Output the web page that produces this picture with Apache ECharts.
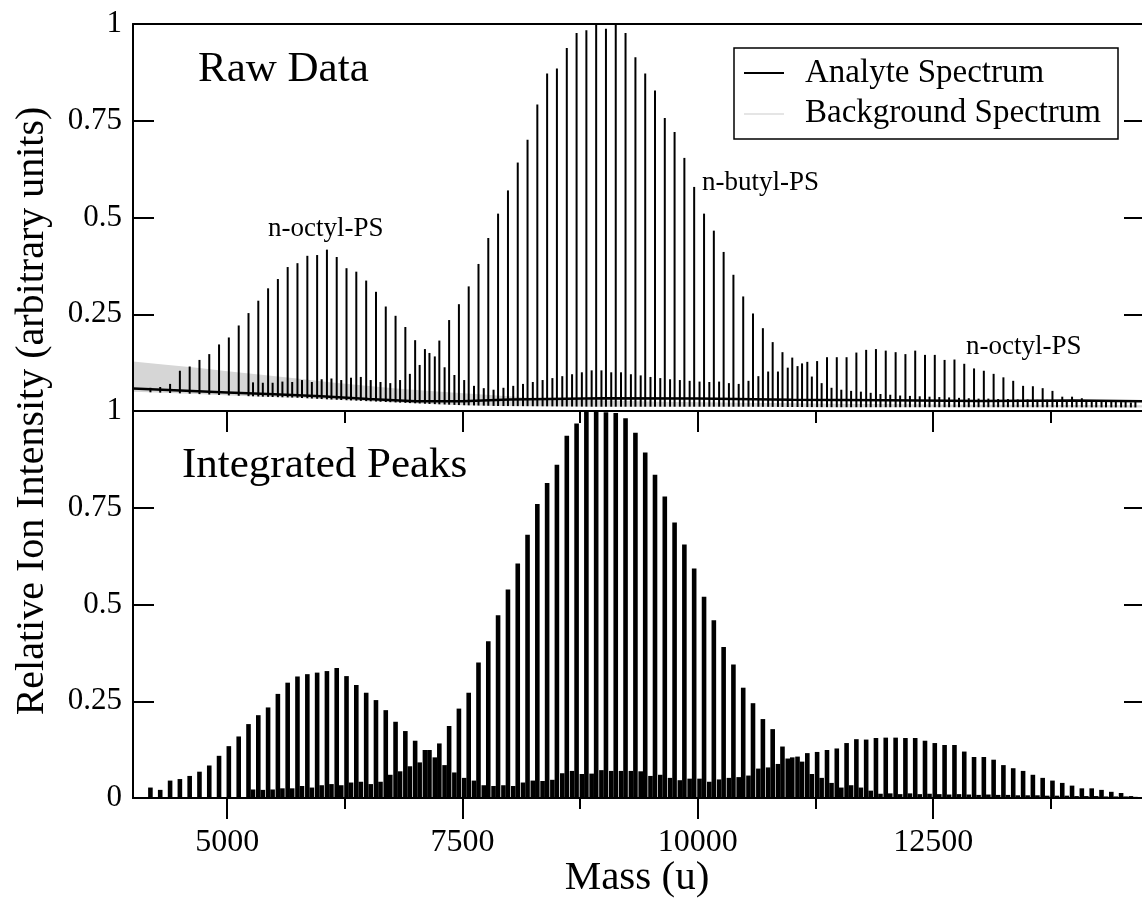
<!DOCTYPE html>
<html>
<head>
<meta charset="utf-8">
<title>MALDI spectra: raw data and integrated peaks</title>
<script src="https://cdn.jsdelivr.net/npm/echarts@6/dist/echarts.min.js"></script>
<style>
  html, body { margin: 0; padding: 0; background: #fff; }
  #chart { width: 1142px; height: 902px; }
</style>
</head>
<body>
<div id="chart"></div>
<script>
// ---- Oligomer masses (u) ----
const octylMass = [4185, 4289, 4394, 4498, 4602, 4706, 4810, 4914, 5018, 5123, 5227, 5331, 5435, 5539, 5643, 5747, 5852, 5956, 6060, 6164, 6268, 6372, 6477, 6581, 6685, 6789, 6893, 6997, 7101, 7206, 7310, 7414, 7518, 7622, 7726, 7830, 7935, 8039, 8143, 8247, 8351, 8455, 8560, 8664, 8768, 8872, 8976, 9080, 9184, 9289, 9393, 9497, 9601, 9705, 9809, 9913, 10018, 10122, 10226, 10330, 10434, 10538, 10643, 10747, 10851, 10955, 11059, 11163, 11267, 11372, 11476, 11580, 11684, 11788, 11892, 11996, 12101, 12205, 12309, 12413, 12517, 12621, 12726, 12830, 12934, 13038, 13142, 13246, 13350, 13455, 13559, 13663, 13767, 13871, 13975, 14079, 14184, 14288, 14392, 14496, 14600];
const butylMass = [5275, 5379, 5483, 5587, 5691, 5795, 5900, 6004, 6108, 6212, 6316, 6420, 6525, 6629, 6733, 6837, 6941, 7045, 7149, 7254, 7358, 7462, 7566, 7670, 7774, 7878, 7983, 8087, 8191, 8295, 8399, 8503, 8608, 8712, 8816, 8920, 9024, 9128, 9232, 9337, 9441, 9545, 9649, 9753, 9857, 9961, 10066, 10170, 10274, 10378, 10482, 10586, 10691, 10795, 10899, 11003, 11107, 11211, 11315, 11420, 11524, 11628, 11732, 11836, 11940, 12044, 12149, 12253, 12357, 12461, 12565, 12669, 12774, 12878, 12982, 13086, 13190, 13294, 13398, 13503, 13607, 13711, 13815, 13919, 14023, 14127, 14232, 14336, 14440, 14544, 14648];

// ---- Raw spectrum: peak apex intensities ----
const octylRaw = [0.060, 0.062, 0.070, 0.104, 0.115, 0.132, 0.147, 0.172, 0.190, 0.221,
  0.253, 0.285, 0.317, 0.341, 0.372, 0.382, 0.401, 0.403, 0.417, 0.398,
  0.369, 0.360, 0.337, 0.308, 0.270, 0.246, 0.217, 0.183, 0.160, 0.141,
  0.113, 0.093, 0.080, 0.065, 0.059, 0.055, 0.060, 0.065, 0.070, 0.075,
  0.080, 0.085, 0.090, 0.095, 0.100, 0.105, 0.105, 0.100, 0.100, 0.095,
  0.092, 0.088, 0.085, 0.082, 0.080, 0.078, 0.076, 0.075, 0.076, 0.072,
  0.070, 0.078, 0.090, 0.102, 0.102, 0.112, 0.116, 0.127, 0.129, 0.139,
  0.139, 0.139, 0.151, 0.158, 0.160, 0.156, 0.152, 0.147, 0.156, 0.145,
  0.145, 0.132, 0.133, 0.122, 0.110, 0.104, 0.096, 0.087, 0.078, 0.065,
  0.064, 0.059, 0.052, 0.037, 0.037, 0.033, 0.028, 0.025, 0.024, 0.023, 0.022];
const butylRaw = [0.074, 0.073, 0.073, 0.076, 0.075, 0.080, 0.075, 0.082, 0.084, 0.080,
  0.086, 0.088, 0.080, 0.075, 0.072, 0.080, 0.096, 0.119, 0.150, 0.182,
  0.235, 0.276, 0.322, 0.380, 0.447, 0.510, 0.570, 0.642, 0.701, 0.792,
  0.872, 0.885, 0.938, 0.977, 0.984, 1.000, 0.988, 1.000, 0.977, 0.914,
  0.872, 0.828, 0.757, 0.721, 0.654, 0.579, 0.510, 0.466, 0.411, 0.352,
  0.296, 0.252, 0.214, 0.178, 0.152, 0.138, 0.123, 0.089, 0.072, 0.060,
  0.055, 0.052, 0.050, 0.047, 0.044, 0.042, 0.040, 0.039, 0.038, 0.037,
  0.036, 0.035, 0.034, 0.033, 0.032, 0.032, 0.031, 0.031, 0.030, 0.030,
  0.029, 0.029, 0.028, 0.028, 0.027, 0.027, 0.026, 0.026, 0.025, 0.025, 0.024];

// ---- Integrated peak areas ----
const octylArea = [0.027, 0.021, 0.045, 0.049, 0.057, 0.068, 0.084, 0.109, 0.134, 0.159,
  0.191, 0.214, 0.234, 0.269, 0.298, 0.314, 0.320, 0.324, 0.328, 0.336,
  0.315, 0.292, 0.272, 0.253, 0.227, 0.197, 0.173, 0.148, 0.124, 0.105,
  0.085, 0.066, 0.052, 0.045, 0.033, 0.031, 0.033, 0.031, 0.040, 0.045,
  0.044, 0.047, 0.064, 0.070, 0.062, 0.063, 0.072, 0.070, 0.070, 0.070,
  0.069, 0.057, 0.060, 0.052, 0.046, 0.050, 0.050, 0.042, 0.048, 0.052,
  0.054, 0.058, 0.076, 0.079, 0.088, 0.102, 0.107, 0.116, 0.119, 0.124,
  0.128, 0.142, 0.152, 0.151, 0.155, 0.156, 0.156, 0.155, 0.155, 0.148,
  0.142, 0.137, 0.137, 0.120, 0.106, 0.106, 0.099, 0.085, 0.077, 0.070,
  0.060, 0.052, 0.045, 0.039, 0.032, 0.025, 0.025, 0.021, 0.016, 0.013, 0.005];
const butylArea = [0.022, 0.021, 0.022, 0.025, 0.025, 0.031, 0.027, 0.033, 0.036, 0.033,
  0.040, 0.042, 0.036, 0.042, 0.060, 0.069, 0.082, 0.092, 0.124, 0.141,
  0.186, 0.231, 0.272, 0.350, 0.405, 0.472, 0.539, 0.606, 0.680, 0.760,
  0.814, 0.861, 0.936, 0.968, 0.998, 1.000, 0.997, 0.995, 0.981, 0.944,
  0.893, 0.835, 0.779, 0.712, 0.655, 0.593, 0.520, 0.459, 0.390, 0.345,
  0.285, 0.245, 0.204, 0.178, 0.133, 0.105, 0.094, 0.062, 0.052, 0.039,
  0.027, 0.033, 0.027, 0.019, 0.011, 0.012, 0.010, 0.012, 0.010, 0.011,
  0.010, 0.009, 0.010, 0.009, 0.008, 0.009, 0.008, 0.008, 0.007, 0.007,
  0.007, 0.006, 0.006, 0.006, 0.005, 0.005, 0.005, 0.004, 0.004, 0.004, 0.003];

// ---- Background spectrum envelope and analyte baseline ----
const bgMass = [4000, 4320, 4680, 5030, 5390, 5740, 6090, 6450, 6800, 7160, 7510, 7870, 8220, 8900, 9600, 10500, 11500, 12500, 13500, 14750];
const bgHigh = [0.128, 0.120, 0.112, 0.102, 0.093, 0.084, 0.074, 0.066, 0.058, 0.052, 0.046, 0.040, 0.034, 0.028, 0.024, 0.021, 0.019, 0.017, 0.016, 0.015];
const bgLow  = [0.050, 0.047, 0.044, 0.040, 0.037, 0.034, 0.030, 0.026, 0.022, 0.018, 0.015, 0.013, 0.012, 0.011, 0.011, 0.011, 0.010, 0.010, 0.010, 0.009];
const baseMass  = [4000, 4500, 5000, 5500, 6000, 6500, 7000, 7500, 8000, 9000, 10000, 11000, 12000, 13000, 14000, 14750];
const baseLevel = [0.058, 0.053, 0.048, 0.043, 0.038, 0.031, 0.025, 0.025, 0.030, 0.033, 0.032, 0.029, 0.028, 0.026, 0.027, 0.025];

// ---- Axis ticks ----
const massTicks = [5000, 7500, 10000, 12500];
const massMinorTicks = [6250, 8750, 11250, 13750];

const FONT = '"Liberation Serif", "Times New Roman", serif';
const X_MIN = 4000, X_MAX = 14750;

const pairs = (xs, ys) => xs.map((x, i) => [x, ys[i]]);

const axisLineStyle = { color: '#000', width: 2 };
const tickStyle = { color: '#000', width: 2 };

const baseX = {
  type: 'value', min: X_MIN, max: X_MAX, z: 10,
  splitLine: { show: false },
  axisLine: { show: true, onZero: false, lineStyle: axisLineStyle },
  axisTick: { show: false },
  axisLabel: { show: false }
};
const ticksAt = (values, len, inside) => ({ show: true, inside, length: len, lineStyle: tickStyle, customValues: values });

const baseY = {
  type: 'value', min: 0, max: 1, interval: 0.25, z: 10,
  splitLine: { show: false },
  axisLine: { show: true, onZero: false, lineStyle: axisLineStyle },
  axisTick: { show: true, inside: true, length: 21, lineStyle: tickStyle }
};
const yLabel = { show: true, fontSize: 31, fontFamily: FONT, color: '#000', margin: 11 };

const text = (x, y, str, size, align) => ({
  type: 'text', x, y, z: 20,
  style: { text: str, font: size + 'px ' + FONT, fill: '#000', align: align || 'left', verticalAlign: 'middle' }
});

const chart = echarts.init(document.getElementById('chart'), null, { renderer: 'canvas' });
chart.setOption({
  animation: false,
  backgroundColor: '#fff',
  grid: [
    { left: 133, top: 24, width: 1012, height: 387, outerBoundsMode: 'none' },
    { left: 133, top: 411, width: 1012, height: 387, outerBoundsMode: 'none' }
  ],
  xAxis: [
    Object.assign({}, baseX, { gridIndex: 0, position: 'bottom' }),
    Object.assign({}, baseX, { gridIndex: 0, position: 'top' }),
    Object.assign({}, baseX, { gridIndex: 1, position: 'top', axisTick: ticksAt(massTicks, 21, true) }),
    Object.assign({}, baseX, { gridIndex: 1, position: 'top', axisTick: ticksAt(massMinorTicks, 12, true) }),
    Object.assign({}, baseX, {
      gridIndex: 1, position: 'bottom', axisTick: ticksAt(massTicks, 21, false),
      axisLabel: { show: true, customValues: massTicks, formatter: v => String(v),
        fontSize: 32, fontFamily: FONT, color: '#000', margin: 29 }
    }),
    Object.assign({}, baseX, { gridIndex: 1, position: 'bottom', axisTick: ticksAt(massMinorTicks, 11, false) })
  ],
  yAxis: [
    Object.assign({}, baseY, { gridIndex: 0, position: 'left', axisLabel: Object.assign({}, yLabel, { showMinLabel: false }) }),
    Object.assign({}, baseY, { gridIndex: 0, position: 'right', axisLabel: { show: false } }),
    Object.assign({}, baseY, { gridIndex: 1, position: 'left', axisLabel: yLabel }),
    Object.assign({}, baseY, { gridIndex: 1, position: 'right', axisLabel: { show: false } })
  ],
  series: [
    // background spectrum: grey band up to its upper envelope
    { name: 'Background Spectrum', type: 'line', xAxisIndex: 0, yAxisIndex: 0, data: pairs(bgMass, bgHigh),
      symbol: 'none', lineStyle: { width: 0, opacity: 0 }, areaStyle: { color: '#d6d6d6', opacity: 1 }, silent: true, z: 1 },
    // raw analyte peaks
    { name: 'n-octyl-PS (raw)', type: 'bar', xAxisIndex: 0, yAxisIndex: 0, data: pairs(octylMass, octylRaw),
      barWidth: 2, barGap: '-100%', itemStyle: { color: '#000' }, z: 2 },
    { name: 'n-butyl-PS (raw)', type: 'bar', xAxisIndex: 0, yAxisIndex: 0, data: pairs(butylMass, butylRaw),
      barWidth: 2, barGap: '-100%', itemStyle: { color: '#000' }, z: 2 },
    // blank region beneath the background's lower envelope
    { name: 'floor', type: 'line', xAxisIndex: 0, yAxisIndex: 0, data: pairs(bgMass, bgLow),
      symbol: 'none', lineStyle: { width: 0, opacity: 0 }, areaStyle: { color: '#fff', opacity: 1 }, silent: true, z: 3 },
    // analyte baseline
    { name: 'Analyte Spectrum', type: 'line', xAxisIndex: 0, yAxisIndex: 0, data: pairs(baseMass, baseLevel),
      symbol: 'none', lineStyle: { color: '#000', width: 2.5 }, silent: true, z: 4 },
    // integrated peaks
    { name: 'n-octyl-PS (integrated)', type: 'bar', xAxisIndex: 4, yAxisIndex: 2, data: pairs(octylMass, octylArea),
      barWidth: 4.6, barGap: '-100%', itemStyle: { color: '#000' }, z: 2 },
    { name: 'n-butyl-PS (integrated)', type: 'bar', xAxisIndex: 4, yAxisIndex: 2, data: pairs(butylMass, butylArea),
      barWidth: 4.6, barGap: '-100%', itemStyle: { color: '#000' }, z: 2 }
  ],
  graphic: [
    text(198, 70, 'Raw Data', 43),
    text(182, 466, 'Integrated Peaks', 43),
    text(268, 229, 'n-octyl-PS', 27),
    text(702, 183, 'n-butyl-PS', 27),
    text(966, 347, 'n-octyl-PS', 27),
    text(637, 878, 'Mass (u)', 41, 'center'),
    { type: 'text', x: 32, y: 411, rotation: Math.PI / 2, z: 20,
      style: { text: 'Relative Ion Intensity (arbitrary units)', font: '40px ' + FONT, fill: '#000', align: 'center', verticalAlign: 'middle' } },
    // legend
    { type: 'rect', z: 19, shape: { x: 734, y: 48, width: 384, height: 91 },
      style: { fill: '#fff', stroke: '#000', lineWidth: 1.5 } },
    { type: 'line', z: 20, shape: { x1: 744, y1: 73, x2: 784, y2: 73 }, style: { stroke: '#000', lineWidth: 2 } },
    { type: 'line', z: 20, shape: { x1: 744, y1: 114, x2: 784, y2: 114 }, style: { stroke: '#dcdcdc', lineWidth: 1.5 } },
    text(805, 73, 'Analyte Spectrum', 33),
    text(805, 113, 'Background Spectrum', 33)
  ]
});
</script>
</body>
</html>
